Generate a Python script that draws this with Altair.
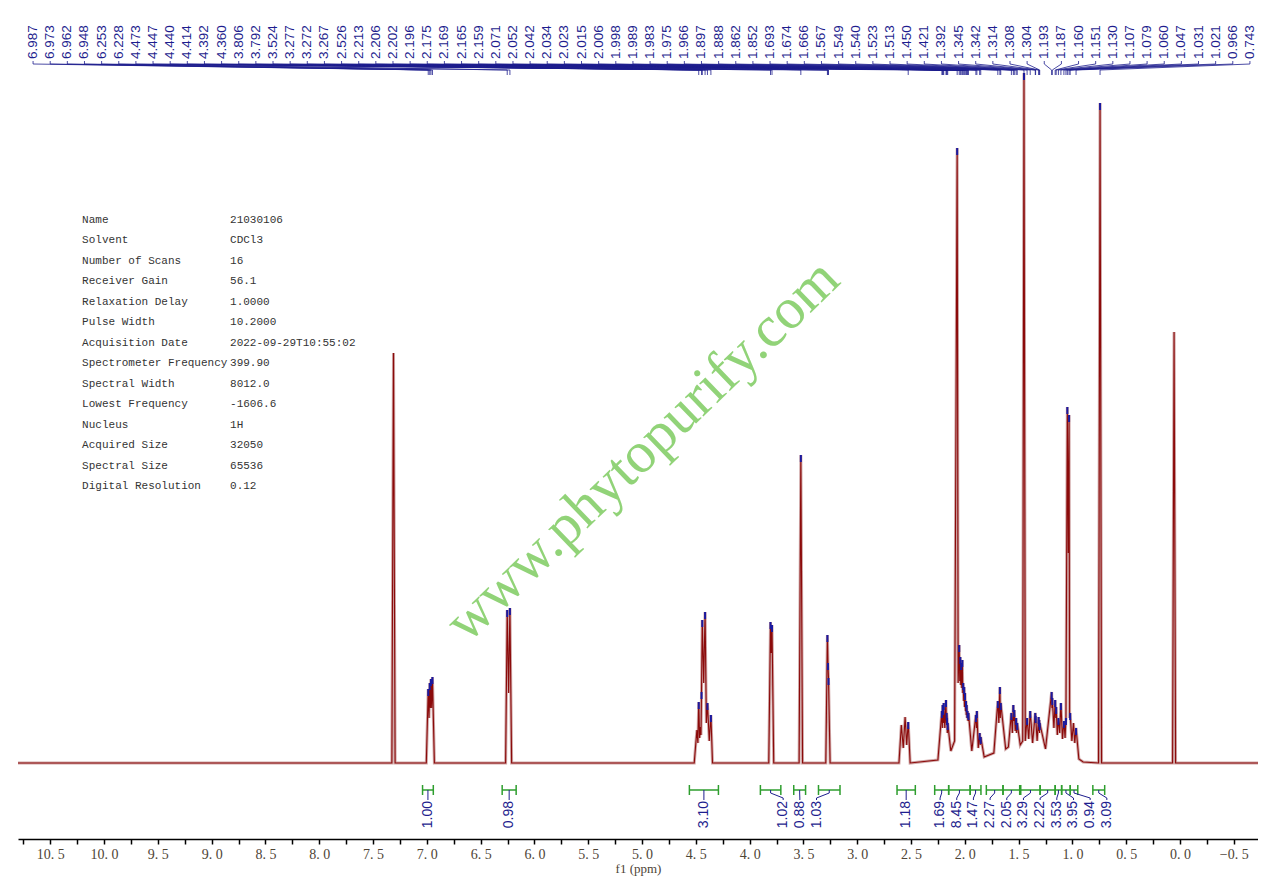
import altair as alt
import pandas as pd
import numpy as np

# ---------------- data ----------------
# picked / visible peak maxima (ppm, intensity in arbitrary units)
peak_ppm = [7.310,
            6.987, 6.973, 6.962, 6.948,
            6.253, 6.228,
            4.490, 4.473, 4.458, 4.447, 4.440, 4.414, 4.392, 4.360,
            3.806, 3.792,
            3.524,
            3.277, 3.272, 3.267,
            2.590, 2.555, 2.526,
            2.213, 2.206, 2.202, 2.196, 2.175, 2.169, 2.165, 2.159,
            2.071, 2.052, 2.042, 2.034, 2.023, 2.015, 2.006, 1.998, 1.989, 1.983, 1.975, 1.966,
            1.897, 1.888, 1.862, 1.852,
            1.693, 1.674, 1.666,
            1.567, 1.549, 1.540, 1.523, 1.513,
            1.450,
            1.421, 1.392, 1.345, 1.342, 1.314, 1.308, 1.304,
            1.193, 1.187, 1.160, 1.151, 1.130, 1.107, 1.079,
            1.060, 1.047, 1.031, 1.021,
            0.990, 0.966,
            0.743,
            0.055]
peak_int = [410,
            74, 80, 84, 86,
            153, 155,
            33, 61, 36, 71, 143, 151, 60, 48,
            141, 138,
            308,
            128, 100, 85,
            38, 46, 41,
            52, 58, 55, 60, 63, 50, 45, 40,
            615, 118, 106, 100, 103, 80, 76, 70, 62, 58, 52, 50,
            48, 52, 30, 26,
            62, 76, 60,
            50, 58, 53, 45, 40,
            690,
            45, 52, 50, 47, 46, 43, 40,
            71, 65, 63, 56, 45, 60, 42,
            45, 356, 348, 50,
            40, 35,
            660,
            431]

# minima between peaks and baseline points
valley_ppm = [10.80, 7.325, 7.295,
              7.005, 6.980, 6.967, 6.955, 6.930,
              6.268, 6.240, 6.212,
              4.515, 4.481, 4.465, 4.452, 4.427, 4.402, 4.375, 4.345,
              3.822, 3.799, 3.776,
              3.540, 3.508,
              3.292, 3.252,
              2.612, 2.572, 2.540, 2.508,
              2.25, 2.209, 2.199, 2.186, 2.172, 2.162, 2.13, 2.095,
              2.062, 2.047, 2.038, 2.028, 2.019, 2.010, 2.002, 1.993, 1.986, 1.979, 1.970, 1.935,
              1.892, 1.875, 1.857, 1.82,
              1.73, 1.684, 1.670, 1.62,
              1.595, 1.558, 1.545, 1.531, 1.518, 1.485,
              1.462, 1.438,
              1.406, 1.370, 1.328, 1.311, 1.306, 1.25,
              1.190, 1.172, 1.155, 1.140, 1.118, 1.092, 1.068,
              1.039, 1.026, 1.005, 0.978, 0.94, 0.90,
              0.757, 0.729,
              0.069, 0.041, -0.725]
valley_int = [0, 0, 0,
              0, 45, 55, 55, 0,
              0, 70, 0,
              0, 20, 25, 28, 80, 40, 22, 0,
              0, 110, 0,
              0, 0,
              0, 0,
              0, 15, 18, 0,
              3, 35, 40, 35, 40, 30, 12, 22,
              80, 82, 78, 75, 70, 62, 56, 52, 48, 45, 42, 12,
              35, 15, 18, 6,
              10, 40, 45, 14,
              16, 30, 42, 32, 30, 18,
              22, 22,
              24, 20, 22, 32, 30, 14,
              55, 35, 45, 28, 30, 24, 25,
              210, 45, 22, 20, 4, 1,
              0, 0,
              0, 0, 0]

top_labels = ["6.987", "6.973", "6.962", "6.948", "6.253", "6.228", "4.473", "4.447", "4.440",
              "4.414", "4.392", "4.360", "3.806", "3.792", "3.524", "3.277", "3.272", "3.267",
              "2.526", "2.213", "2.206", "2.202", "2.196", "2.175", "2.169", "2.165", "2.159",
              "2.071", "2.052", "2.042", "2.034", "2.023", "2.015", "2.006", "1.998", "1.989",
              "1.983", "1.975", "1.966", "1.897", "1.888", "1.862", "1.852", "1.693", "1.674",
              "1.666", "1.567", "1.549", "1.540", "1.523", "1.513", "1.450", "1.421", "1.392",
              "1.345", "1.342", "1.314", "1.308", "1.304", "1.193", "1.187", "1.160", "1.151",
              "1.130", "1.107", "1.079", "1.060", "1.047", "1.031", "1.021", "0.966", "0.743"]

int_from = [7.04, 6.30, 4.56, 3.90, 3.59, 3.36, 2.63, 2.28, 2.15, 1.95, 1.80, 1.645, 1.48, 1.30, 1.16, 1.10, 1.02, 0.81]
int_to = [6.94, 6.17, 4.29, 3.71, 3.48, 3.16, 2.46, 2.15, 1.95, 1.85, 1.645, 1.49, 1.30, 1.16, 1.10, 1.02, 0.95, 0.70]
int_values = ["1.00", "0.98", "3.10", "1.02", "0.88", "1.03", "1.18", "1.69", "8.45", "1.47",
              "2.27", "2.05", "3.29", "2.22", "3.53", "3.95", "0.94", "3.09"]

param_names = ["Name", "Solvent", "Number of Scans", "Receiver Gain", "Relaxation Delay",
               "Pulse Width", "Acquisition Date", "Spectrometer Frequency", "Spectral Width",
               "Lowest Frequency", "Nucleus", "Acquired Size", "Spectral Size", "Digital Resolution"]
param_values = ["21030106", "CDCl3", "16", "56.1", "1.0000", "10.2000", "2022-09-29T10:55:02",
                "399.90", "8012.0", "-1606.6", "1H", "32050", "65536", "0.12"]

watermark = "www.phytopurify.com"

# ---------------- layout / styles ----------------
X0, X1 = 10.8, -0.725
Y0, Y1 = -76, 755
xs = alt.Scale(domain=[X0, X1], nice=False, zero=False)
ys = alt.Scale(domain=[Y0, Y1], nice=False, zero=False)
NAVY = "#1e1e8e"
GREEN = "#2e9e2e"
AXC = "#4e4436"

tick_vals = [round(10.75 - 0.25 * k, 2) for k in range(46)]
xaxis = alt.Axis(values=tick_vals,
                 labelExpr="abs(datum.value*2 - round(datum.value*2)) < 0.001 ? replace(format(datum.value, '.1f'), '.', '. ') : ''",
                 title="f1 (ppm)", grid=False, labelOverlap=False, labelFlush=False,
                 domainColor="black", domainWidth=1.5, tickColor="black", tickWidth=1.5, tickSize=5,
                 labelFont="Liberation Serif", labelFontSize=14, labelColor=AXC, labelPadding=3,
                 titleFont="Liberation Serif", titleFontSize=13, titleFontWeight="normal",
                 titleColor=AXC, titlePadding=1)


def X(field="x"):
    return alt.X(f"{field}:Q", scale=xs, axis=xaxis)


def Y(field="y"):
    return alt.Y(f"{field}:Q", scale=ys, axis=None)


# spectrum trace
spec = pd.DataFrame({"x": peak_ppm + valley_ppm, "y": peak_int + valley_int})
spec = spec.sort_values("x", ascending=False).reset_index(drop=True)

halo = alt.Chart(spec).mark_line(color="#cfa6a6", strokeWidth=3).encode(x=X(), y=Y())
core = alt.Chart(spec).mark_line(color="#8b0a0a", strokeWidth=1.1).encode(x=X(), y=Y())

# blue tips on picked peaks
label_set = set(float(t) for t in top_labels)
tips = pd.DataFrame([(p, h) for p, h in zip(peak_ppm, peak_int) if p in label_set], columns=["x", "y"])
tips["y0"] = tips["y"] - 7
tips_layer = alt.Chart(tips).mark_rule(color="#1a1aa0", strokeWidth=2).encode(
    x=X(), y=Y("y0"), y2="y:Q")

# top peak labels + connectors
n = len(top_labels)
lab_x = np.linspace(10.66, -0.65, n)
top_df = pd.DataFrame({"x": lab_x, "y": 704, "t": top_labels})
rows = []
for i, t in enumerate(top_labels):
    p = float(t)
    for k, (xx, yy) in enumerate([(lab_x[i], 702), (lab_x[i], 699), (p, 693), (p, 688)]):
        rows.append({"id": i, "k": k, "x": xx, "y": yy})
conn_top = pd.DataFrame(rows)
conn_top_layer = alt.Chart(conn_top).mark_line(color=NAVY, strokeWidth=0.8).encode(
    x=X(), y=Y(), detail="id:N", order="k:Q")
top_text = alt.Chart(top_df).mark_text(angle=270, align="left", baseline="middle",
                                       font="Liberation Sans", fontSize=13.5, color=NAVY).encode(
    x=X(), y=Y(), text="t:N")

# integrals
centers = [(a + b) / 2 for a, b in zip(int_from, int_to)]
clusters = []
for i, c in enumerate(centers):
    if clusters and centers[clusters[-1][-1]] - c < 0.297:
        clusters[-1].append(i)
    else:
        clusters.append([i])
SP = 0.155
ilab = [0.0] * len(centers)
for cl in clusters:
    m = float(np.mean([centers[i] for i in cl]))
    for k, i in enumerate(cl):
        ilab[i] = m + ((len(cl) - 1) / 2 - k) * SP

br = pd.DataFrame({"a": int_from, "b": int_to, "y": -27})
caps = pd.DataFrame({"x": int_from + int_to, "y0": -22, "y1": -32})
br_layer = alt.Chart(br).mark_rule(color=GREEN, strokeWidth=1.5).encode(x=X("a"), x2="b:Q", y=Y())
cap_layer = alt.Chart(caps).mark_rule(color=GREEN, strokeWidth=1.5).encode(x=X(), y=Y("y0"), y2="y1:Q")
rows = []
for i, c in enumerate(centers):
    for k, (xx, yy) in enumerate([(c, -27), (c, -30), (ilab[i], -35), (ilab[i], -37)]):
        rows.append({"id": i, "k": k, "x": xx, "y": yy})
iconn = alt.Chart(pd.DataFrame(rows)).mark_line(color=NAVY, strokeWidth=1).encode(
    x=X(), y=Y(), detail="id:N", order="k:Q")
itext = alt.Chart(pd.DataFrame({"x": ilab, "y": -38, "t": int_values})).mark_text(
    angle=270, align="right", baseline="middle", font="Liberation Sans", fontSize=14, color=NAVY).encode(
    x=X(), y=Y(), text="t:N")

# parameter table
nrow = len(param_names)
tab = pd.DataFrame({"xn": 10.204, "xv": 8.829,
                    "y": [543 - 20.46 * i for i in range(nrow)],
                    "n": param_names, "v": param_values})
tab_n = alt.Chart(tab).mark_text(align="left", baseline="middle", font="Liberation Mono",
                                 fontSize=11, color="#333333").encode(x=X("xn"), y=Y(), text="n:N")
tab_v = alt.Chart(tab).mark_text(align="left", baseline="middle", font="Liberation Mono",
                                 fontSize=11, color="#333333").encode(x=X("xv"), y=Y(), text="v:N")

# watermark
wm = alt.Chart(pd.DataFrame({"x": [4.99], "y": [312], "t": [watermark]})).mark_text(
    angle=316, align="center", baseline="middle", font="Liberation Serif", fontSize=58,
    color="#86cf6a", opacity=0.9).encode(x=X(), y=Y(), text="t:N")

chart = alt.layer(wm, halo, core, tips_layer, conn_top_layer, top_text,
                  br_layer, cap_layer, iconn, itext, tab_n, tab_v).properties(
    width=1240, height=831,
    autosize=alt.AutoSizeParams(type="none"),
    padding={"left": 10, "top": 0, "right": 0, "bottom": 42},
).configure_view(stroke=None)

chart.save("out.html", embed_options={"renderer": "svg", "actions": False})
